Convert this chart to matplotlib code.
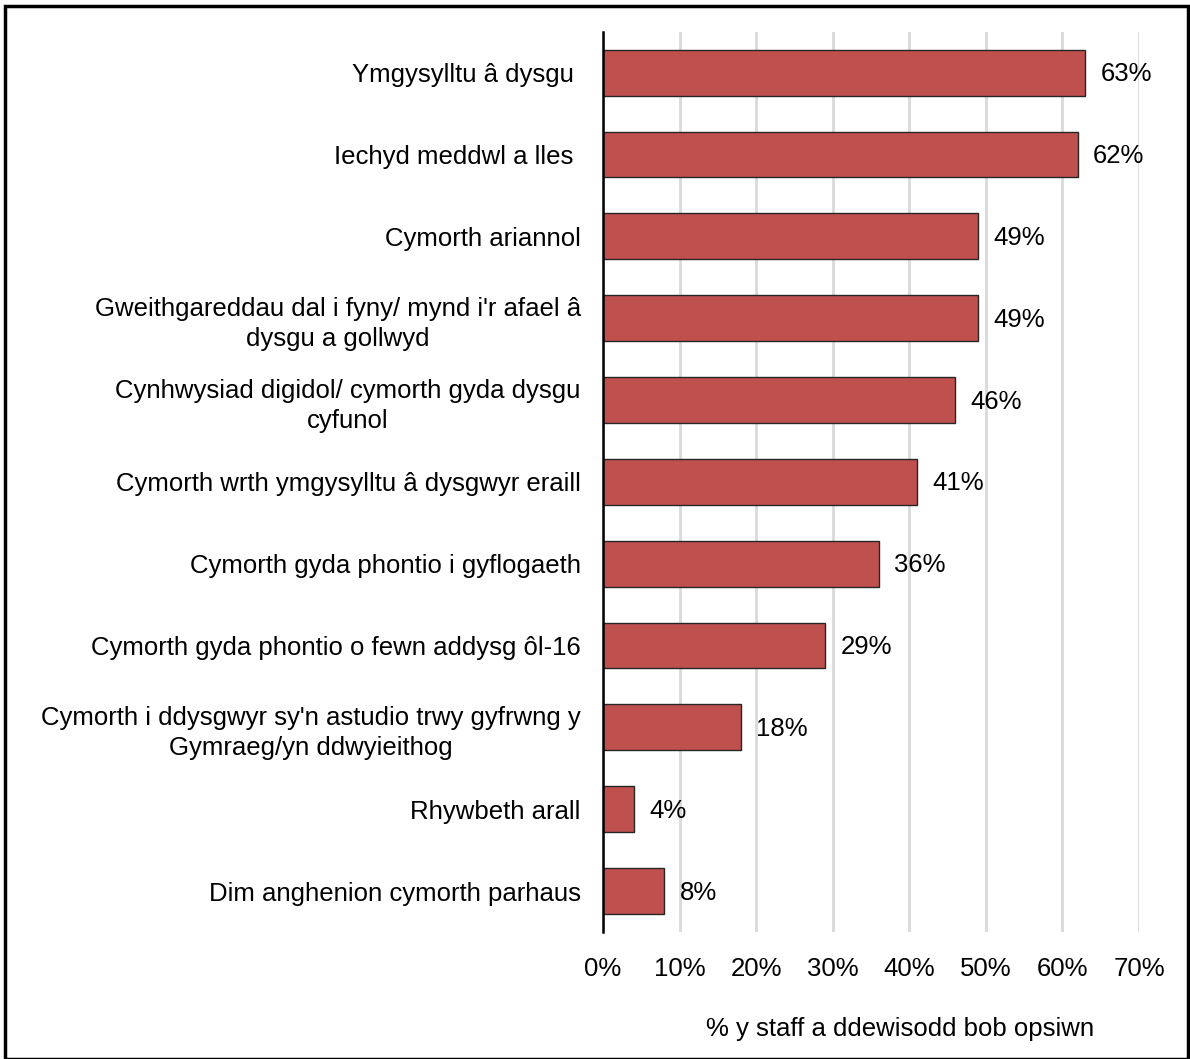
import numpy as np
import matplotlib.pyplot as plt
from matplotlib.patches import Rectangle

plt.rcParams['font.family'] = ['Liberation Sans', 'DejaVu Sans']

categories = [
    "Ymgysylltu â dysgu ",
    "Iechyd meddwl a lles ",
    "Cymorth ariannol",
    "Gweithgareddau dal i fyny/ mynd i'r afael â\ndysgu a gollwyd",
    "Cynhwysiad digidol/ cymorth gyda dysgu\ncyfunol",
    "Cymorth wrth ymgysylltu â dysgwyr eraill",
    "Cymorth gyda phontio i gyflogaeth",
    "Cymorth gyda phontio o fewn addysg ôl-16",
    "Cymorth i ddysgwyr sy'n astudio trwy gyfrwng y\nGymraeg/yn ddwyieithog",
    "Rhywbeth arall",
    "Dim anghenion cymorth parhaus",
]
values = [63, 62, 49, 49, 46, 41, 36, 29, 18, 4, 8]
xticks = [0, 10, 20, 30, 40, 50, 60, 70]
xlabel = "% y staff a ddewisodd bob opsiwn"

fs = 18.5

fig = plt.figure(figsize=(11.9, 10.59), dpi=100)
ax = fig.add_axes([0.5067, 0.12, 0.4504, 0.85])

y = np.arange(len(categories))
ax.barh(y, values, height=0.56, color='#C0504D', edgecolor='#262626', linewidth=1.0, zorder=3)

for yi, v in zip(y, values):
    ax.text(v + 2.0, yi + 0.02, f"{v}%", va='center', ha='left', fontsize=fs, color='#000000')

ax.set_ylim(len(categories) - 0.5, -0.5)
ax.set_xlim(0, 70)
ax.set_xticks(xticks)
ax.set_xticklabels([f"{t}%" for t in xticks], fontsize=fs)
ax.set_yticks(y)
ax.set_yticklabels(categories, fontsize=fs)
for lbl in ax.get_yticklabels():
    lbl.set_multialignment('center')
    lbl.set_linespacing(1.35)

ax.tick_params(axis='y', length=0, pad=16)
ax.tick_params(axis='x', length=0, pad=18)
ax.grid(axis='x', color='#D9D9D9', linewidth=2, zorder=0)
for s in ['top', 'right', 'bottom']:
    ax.spines[s].set_visible(False)
ax.spines['left'].set_linewidth(1.8)
ax.spines['left'].set_zorder(4)

ax.set_xlabel(xlabel, fontsize=fs)
ax.xaxis.set_label_coords(0.555, -0.095)

fig.patches.append(Rectangle((0.004, 0.0), 0.994, 0.994, transform=fig.transFigure,
                             fill=False, edgecolor='black', linewidth=2.5))

fig.savefig('out.png', dpi=100)
